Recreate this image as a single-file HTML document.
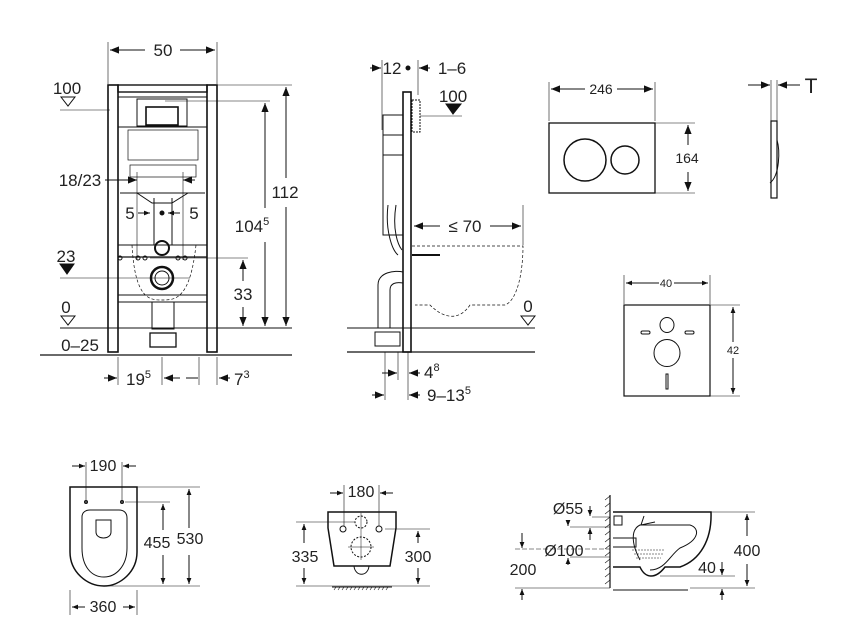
<!DOCTYPE html>
<html><head><meta charset="utf-8"><style>
html,body{margin:0;padding:0;background:#fff}
svg{display:block}
text{font-family:"Liberation Sans",sans-serif;fill:#222}
</style></head><body>
<svg width="851" height="630" viewBox="0 0 851 630" xmlns="http://www.w3.org/2000/svg">
<defs>
<marker id="a" viewBox="0 0 10 10" refX="10" refY="5" markerWidth="9" markerHeight="9" orient="auto-start-reverse"><path d="M0,1 L10,5 L0,9z" fill="#111"/></marker>
<marker id="s" viewBox="0 0 10 10" refX="10" refY="5" markerWidth="6" markerHeight="6" orient="auto-start-reverse"><path d="M0,1 L10,5 L0,9z" fill="#111"/></marker>
</defs>
<g stroke="#111" fill="none" stroke-width="1">
<!-- ===== FRONT FRAME ===== -->
<line x1="108" y1="42" x2="108" y2="84" stroke-width="0.6"/>
<line x1="217" y1="42" x2="217" y2="84" stroke-width="0.6"/>
<line x1="110" y1="50" x2="145" y2="50" marker-start="url(#a)"/>
<line x1="180" y1="50" x2="215" y2="50" marker-end="url(#a)"/>
<rect x="108" y="85" width="10" height="267" stroke-width="1.6"/>
<rect x="207" y="85" width="10" height="267" stroke-width="1.6"/>
<rect x="118" y="85" width="89" height="7" stroke-width="1.4"/>
<rect x="118" y="97" width="89" height="30" stroke-width="1"/>
<rect x="137" y="99" width="50" height="27" />
<rect x="146" y="107" width="32" height="18" stroke-width="1.6"/>
<rect x="128" y="130" width="70" height="30" stroke-width="0.7"/>
<rect x="130" y="165" width="66" height="12" stroke-width="0.7"/>
<rect x="118" y="127" width="89" height="118" stroke-width="1"/>
<path d="M120,193 L205,193 M137,193 L152,203 L172,203 L188,193"/>
<line x1="154" y1="198" x2="154" y2="245"/><line x1="172" y1="198" x2="172" y2="245"/>
<line x1="118" y1="245" x2="207" y2="245"/>
<line x1="118" y1="257" x2="207" y2="257" stroke-width="1.3"/>
<line x1="118" y1="295" x2="207" y2="295"/>
<line x1="118" y1="302" x2="207" y2="302"/>
<rect x="152" y="302" width="22" height="27"/>
<rect x="150" y="333" width="26" height="14" stroke-width="1.3"/>
<circle cx="162" cy="248" r="7" stroke-width="2"/>
<circle cx="162" cy="278" r="11" stroke-width="2.5"/>
<circle cx="162" cy="278" r="7"/>
<path d="M132,245 C135,300 150,300 162,300 C175,300 190,300 196,245" stroke-dasharray="3,2" stroke-width="0.7"/>
<circle cx="120" cy="258" r="2"/><circle cx="138" cy="258" r="2"/><circle cx="145" cy="258" r="2"/><circle cx="178" cy="258" r="2"/><circle cx="185" cy="258" r="2"/>
<line x1="60" y1="110" x2="110" y2="110" stroke-width="0.6"/>
<path d="M61,97 L75,97 L68,106z"/>
<path d="M60,264 L74,264 L67,274z" fill="#111"/>
<line x1="60" y1="278" x2="190" y2="278" stroke-width="0.6"/>
<line x1="60" y1="328" x2="292" y2="328" stroke-width="1"/>
<path d="M61,316 L75,316 L68,325z"/>
<line x1="40" y1="355" x2="292" y2="355" stroke-width="1.2"/>
<line x1="105" y1="180" x2="137" y2="180" marker-end="url(#a)"/>
<line x1="195" y1="180" x2="183" y2="180" marker-end="url(#a)"/>
<line x1="137" y1="172" x2="137" y2="260" stroke-width="0.6"/>
<line x1="183" y1="172" x2="183" y2="260" stroke-width="0.6"/>
<line x1="138" y1="213" x2="150" y2="213" marker-end="url(#s)"/>
<line x1="180" y1="213" x2="168" y2="213" marker-end="url(#s)"/>
<circle cx="162" cy="213" r="2" fill="#111"/>
<line x1="217" y1="85" x2="292" y2="85" stroke-width="0.6"/>
<line x1="165" y1="101" x2="270" y2="101" stroke-width="0.6"/>
<line x1="150" y1="258" x2="248" y2="258" stroke-width="0.6"/>
<line x1="286" y1="87" x2="286" y2="178" marker-start="url(#a)"/><line x1="286" y1="207" x2="286" y2="326" marker-end="url(#a)"/>
<line x1="265" y1="103" x2="265" y2="208" marker-start="url(#a)"/><line x1="265" y1="242" x2="265" y2="326" marker-end="url(#a)"/>
<line x1="243" y1="260" x2="243" y2="281" marker-start="url(#a)"/><line x1="243" y1="307" x2="243" y2="326" marker-end="url(#a)"/>
<line x1="118" y1="357" x2="118" y2="385" stroke-width="0.6"/>
<line x1="162" y1="357" x2="162" y2="385" stroke-width="0.6"/>
<line x1="199" y1="357" x2="199" y2="385" stroke-width="0.6"/>
<line x1="217" y1="357" x2="217" y2="385" stroke-width="0.6"/>
<line x1="104" y1="378" x2="117" y2="378" marker-end="url(#a)"/>
<line x1="164" y1="378" x2="180" y2="378" marker-start="url(#a)"/><line x1="186" y1="378" x2="198" y2="378"/>
<line x1="230" y1="378" x2="219" y2="378" marker-end="url(#a)"/>

<!-- ===== SIDE VIEW ===== -->
<line x1="382" y1="60" x2="382" y2="130" stroke-width="0.6"/>
<line x1="418" y1="60" x2="418" y2="95" stroke-width="0.6"/>
<line x1="370" y1="68" x2="381" y2="68" marker-end="url(#a)"/>
<line x1="430" y1="68" x2="419" y2="68" marker-end="url(#a)"/>
<circle cx="408" cy="68" r="2" fill="#111"/>
<rect x="403" y="92" width="8" height="260" stroke-width="1.6"/>
<rect x="383" y="115" width="20" height="40" />
<rect x="383" y="135" width="20" height="100"/>
<path d="M388,205 C385,230 392,250 398,255 M396,205 C392,230 398,245 402,250"/>
<rect x="412" y="100" width="8" height="32" stroke-dasharray="2,1"/>
<line x1="420" y1="116" x2="462" y2="116" stroke-width="0.6"/>
<path d="M446,104 L461,104 L453,114z" fill="#111"/>
<path d="M378,328 L378,285 C378,272 395,270 403,272 M390,328 L390,290 C390,283 396,282 403,283"/>
<rect x="375" y="332" width="25" height="14"/>
<line x1="412" y1="255" x2="440" y2="255" stroke-width="2"/>
<path d="M412,246 L523,246 C523,270 518,300 505,305 L470,305 C460,320 445,320 430,305 L415,305" stroke-dasharray="3,2" stroke-width="0.7"/>
<line x1="523" y1="205" x2="523" y2="245" stroke-width="0.6"/>
<line x1="414" y1="226" x2="440" y2="226" marker-start="url(#a)"/>
<line x1="490" y1="226" x2="521" y2="226" marker-end="url(#a)"/>
<line x1="347" y1="328" x2="535" y2="328"/>
<line x1="347" y1="352" x2="535" y2="352" stroke-width="1.2"/>
<path d="M521,316 L535,316 L528,325z"/>
<line x1="385" y1="352" x2="385" y2="400" stroke-width="0.6"/>
<line x1="398" y1="352" x2="398" y2="380" stroke-width="0.6"/>
<line x1="408" y1="352" x2="408" y2="400" stroke-width="0.6"/>
<line x1="382" y1="373" x2="397" y2="373" marker-end="url(#a)"/>
<line x1="420" y1="373" x2="409" y2="373" marker-end="url(#a)"/>
<line x1="372" y1="395" x2="384" y2="395" marker-end="url(#a)"/>
<line x1="420" y1="395" x2="409" y2="395" marker-end="url(#a)"/>

<!-- ===== FLUSH PLATE ===== -->
<line x1="549" y1="82" x2="549" y2="121" stroke-width="0.6"/>
<line x1="655" y1="82" x2="655" y2="121" stroke-width="0.6"/>
<line x1="551" y1="89" x2="585" y2="89" marker-start="url(#a)"/>
<line x1="617" y1="89" x2="653" y2="89" marker-end="url(#a)"/>
<rect x="549" y="123" width="106" height="70" stroke-width="1.3"/>
<circle cx="585" cy="160" r="21" stroke-width="1.5"/>
<circle cx="625" cy="160" r="14" stroke-width="1.5"/>
<line x1="655" y1="123" x2="695" y2="123" stroke-width="0.6"/>
<line x1="655" y1="193" x2="695" y2="193" stroke-width="0.6"/>
<line x1="688" y1="125" x2="688" y2="145" marker-start="url(#a)"/>
<line x1="688" y1="172" x2="688" y2="191" marker-end="url(#a)"/>
<rect x="771" y="121" width="6" height="77" stroke-width="1.2"/>
<path d="M777,140 C780,150 780,175 770,183"/>
<line x1="771" y1="80" x2="771" y2="121" stroke-width="0.6"/>
<line x1="777" y1="80" x2="777" y2="121" stroke-width="0.6"/>
<line x1="748" y1="85" x2="770" y2="85" marker-end="url(#a)"/>
<line x1="800" y1="85" x2="778" y2="85" marker-end="url(#a)"/>

<!-- ===== SQUARE ===== -->
<line x1="624" y1="275" x2="624" y2="304" stroke-width="0.6"/>
<line x1="710" y1="275" x2="710" y2="304" stroke-width="0.6"/>
<line x1="626" y1="283" x2="659" y2="283" marker-start="url(#s)"/>
<line x1="674" y1="283" x2="708" y2="283" marker-end="url(#s)"/>
<rect x="624" y="305" width="86" height="91" stroke-width="1.2"/>
<ellipse cx="667" cy="325" rx="7" ry="7.5"/>
<rect x="641" y="331" width="9" height="3" rx="1.5"/>
<rect x="685" y="331" width="9" height="3" rx="1.5"/>
<ellipse cx="667" cy="353" rx="13" ry="13.5"/>
<rect x="666" y="374" width="2" height="15"/>
<line x1="710" y1="305" x2="740" y2="305" stroke-width="0.6"/>
<line x1="710" y1="396" x2="740" y2="396" stroke-width="0.6"/>
<line x1="733" y1="307" x2="733" y2="342" marker-start="url(#s)"/>
<line x1="733" y1="358" x2="733" y2="394" marker-end="url(#s)"/>

<!-- ===== SEAT TOP ===== -->
<line x1="86" y1="462" x2="86" y2="500" stroke-width="0.6"/>
<line x1="122" y1="462" x2="122" y2="500" stroke-width="0.6"/>
<line x1="72" y1="466" x2="85" y2="466" marker-end="url(#s)"/>
<line x1="136" y1="466" x2="123" y2="466" marker-end="url(#s)"/>
<path d="M70,487 L137,487 L137,552 C137,572 120,586 104,586 C87,586 70,572 70,552z" stroke-width="1.5"/>
<path d="M82,517 C82,512 86,510 90,510 L119,510 C124,510 127,513 127,518 L127,548 C127,566 116,577 104,577 C91,577 82,566 82,548z"/>
<path d="M96,520 L111,520 L111,532 C111,540 96,540 96,532z"/>
<circle cx="86" cy="502" r="1.5" fill="#555"/><circle cx="122" cy="502" r="1.5" fill="#555"/>
<line x1="137" y1="487" x2="200" y2="487" stroke-width="0.6"/>
<line x1="125" y1="502" x2="170" y2="502" stroke-width="0.6"/>
<line x1="104" y1="586" x2="200" y2="586" stroke-width="0.6"/>
<line x1="189" y1="489" x2="189" y2="528" marker-start="url(#s)"/><line x1="189" y1="555" x2="189" y2="584" marker-end="url(#s)"/>
<line x1="163" y1="504" x2="163" y2="530" marker-start="url(#s)"/><line x1="163" y1="555" x2="163" y2="584" marker-end="url(#s)"/>
<line x1="70" y1="590" x2="70" y2="615" stroke-width="0.6"/>
<line x1="137" y1="590" x2="137" y2="615" stroke-width="0.6"/>
<line x1="72" y1="607" x2="85" y2="607" marker-start="url(#s)"/>
<line x1="123" y1="607" x2="135" y2="607" marker-end="url(#s)"/>

<!-- ===== BACK VIEW ===== -->
<line x1="344" y1="485" x2="344" y2="526" stroke-width="0.6"/>
<line x1="379" y1="485" x2="379" y2="526" stroke-width="0.6"/>
<line x1="330" y1="493" x2="343" y2="493" marker-end="url(#s)"/>
<line x1="393" y1="493" x2="380" y2="493" marker-end="url(#s)"/>
<path d="M328,512 L396,512 L396,528 L390,566 L334,566 L328,528z" stroke-width="1.5"/>
<path d="M354,566 C355,577 368,577 369,566"/>
<circle cx="343" cy="529" r="3"/><circle cx="379" cy="529" r="3"/>
<circle cx="361" cy="522" r="6" stroke-dasharray="2,1.5"/>
<circle cx="361" cy="547" r="10" stroke-dasharray="2,1.5"/>
<line x1="361" y1="513" x2="361" y2="560" stroke-width="0.5"/>
<line x1="348" y1="547" x2="374" y2="547" stroke-width="0.5"/>
<line x1="296" y1="522" x2="355" y2="522" stroke-width="0.6"/>
<line x1="385" y1="529" x2="430" y2="529" stroke-width="0.6"/>
<line x1="296" y1="586" x2="430" y2="586" stroke-width="0.6"/>
<line x1="332" y1="587" x2="392" y2="587" stroke-width="1"/>
<path d="M334,590 l2,-3 M338,590 l2,-3 M342,590 l2,-3 M346,590 l2,-3 M350,590 l2,-3 M354,590 l2,-3 M358,590 l2,-3 M362,590 l2,-3 M366,590 l2,-3 M370,590 l2,-3 M374,590 l2,-3 M378,590 l2,-3 M382,590 l2,-3 M386,590 l2,-3" stroke-width="0.6"/>
<line x1="304" y1="524" x2="304" y2="543" marker-start="url(#s)"/><line x1="304" y1="568" x2="304" y2="584" marker-end="url(#s)"/>
<line x1="418" y1="531" x2="418" y2="543" marker-start="url(#s)"/><line x1="418" y1="568" x2="418" y2="584" marker-end="url(#s)"/>

<!-- ===== SIDE BOWL ===== -->
<line x1="610" y1="495" x2="610" y2="588" stroke-width="1.2"/>
<path d="M605,500 l5,-4 M605,507 l5,-4 M605,514 l5,-4 M605,521 l5,-4 M605,528 l5,-4 M605,535 l5,-4 M605,542 l5,-4 M605,549 l5,-4 M605,556 l5,-4 M605,563 l5,-4 M605,570 l5,-4 M605,577 l5,-4 M605,584 l5,-4" stroke-width="0.6"/>
<path d="M613,512 L711,512 C712,540 700,560 680,567 L665,567 C655,580 645,578 640,567 L613,567" stroke-width="1.5"/>
<path d="M640,560 C632,545 630,530 640,525 L690,525 C700,528 700,540 680,548 C670,555 665,570 650,570"/>
<rect x="614" y="516" width="8" height="9"/>
<path d="M644,516 l-3,9 l14,-3"/>
<path d="M613,538 L636,538 L636,547 L613,547" />
<path d="M632,550 L665,550 M634,554 L663,554 M636,558 L661,558" stroke-width="0.5" stroke-dasharray="2,1"/>
<line x1="613" y1="590" x2="688" y2="590"/>
<line x1="592" y1="517" x2="610" y2="517" stroke-width="0.6"/>
<line x1="570" y1="527" x2="610" y2="527" stroke-width="0.6"/>
<line x1="515" y1="549" x2="610" y2="549" stroke-width="0.6" stroke-dasharray="5,2"/>
<line x1="570" y1="557" x2="610" y2="557" stroke-width="0.6"/>
<line x1="515" y1="588" x2="610" y2="588" stroke-width="0.6"/>
<line x1="590" y1="506" x2="590" y2="516" marker-end="url(#s)"/>
<line x1="590" y1="540" x2="590" y2="528" marker-end="url(#s)"/>
<line x1="568" y1="520" x2="568" y2="526" marker-end="url(#s)"/>
<line x1="568" y1="565" x2="568" y2="558" marker-end="url(#s)"/>
<line x1="522" y1="533" x2="522" y2="548" marker-end="url(#s)"/>
<line x1="522" y1="600" x2="522" y2="589" marker-end="url(#s)"/>
<line x1="711" y1="512" x2="755" y2="512" stroke-width="0.6"/>
<line x1="660" y1="576" x2="735" y2="576" stroke-width="0.6"/>
<line x1="690" y1="588" x2="755" y2="588" stroke-width="0.6"/>
<line x1="747" y1="514" x2="747" y2="536" marker-start="url(#s)"/><line x1="747" y1="564" x2="747" y2="586" marker-end="url(#s)"/>
<line x1="722" y1="562" x2="722" y2="575" marker-end="url(#s)"/>
<line x1="722" y1="600" x2="722" y2="589" marker-end="url(#s)"/>
</g>
<g font-size="17">
<text x="163" y="56" text-anchor="middle">50</text>
<text x="67" y="94" text-anchor="middle">100</text>
<text x="80" y="186" text-anchor="middle">18/23</text>
<text x="130" y="219" text-anchor="middle">5</text>
<text x="194" y="219" text-anchor="middle">5</text>
<text x="66" y="262" text-anchor="middle">23</text>
<text x="66" y="313" text-anchor="middle">0</text>
<text x="80" y="351" text-anchor="middle">0–25</text>
<text x="285" y="198" text-anchor="middle">112</text>
<text x="252" y="232" text-anchor="middle">104<tspan font-size="11" dy="-7">5</tspan></text>
<text x="243" y="300" text-anchor="middle">33</text>
<text x="126" y="385">19<tspan font-size="11" dy="-7">5</tspan></text>
<text x="234" y="385">7<tspan font-size="11" dy="-7">3</tspan></text>
<text x="392" y="74" text-anchor="middle">12</text>
<text x="452" y="74" text-anchor="middle">1–6</text>
<text x="453" y="102" text-anchor="middle">100</text>
<text x="465" y="232" text-anchor="middle">≤ 70</text>
<text x="528" y="312" text-anchor="middle">0</text>
<text x="424" y="378">4<tspan font-size="11" dy="-7">8</tspan></text>
<text x="427" y="401">9–13<tspan font-size="11" dy="-7">5</tspan></text>
<text x="811" y="93" text-anchor="middle" font-size="21">T</text>
</g>
<g font-size="14" fill="#333">
<text x="601" y="94" text-anchor="middle">246</text>
<text x="687" y="163" text-anchor="middle">164</text>
</g>
<g font-size="11">
<text x="666" y="287" text-anchor="middle">40</text>
<text x="733" y="354" text-anchor="middle">42</text>
</g>
<g font-size="16" fill="#333">
<text x="103" y="471" text-anchor="middle">190</text>
<text x="157" y="548" text-anchor="middle">455</text>
<text x="190" y="544" text-anchor="middle">530</text>
<text x="103" y="612" text-anchor="middle">360</text>
<text x="361" y="497" text-anchor="middle">180</text>
<text x="305" y="562" text-anchor="middle">335</text>
<text x="418" y="562" text-anchor="middle">300</text>
<text x="568" y="514" text-anchor="middle">Ø55</text>
<text x="564" y="556" text-anchor="middle">Ø100</text>
<text x="523" y="575" text-anchor="middle">200</text>
<text x="747" y="556" text-anchor="middle">400</text>
<text x="707" y="573" text-anchor="middle">40</text>
</g>
</svg>
</body></html>
